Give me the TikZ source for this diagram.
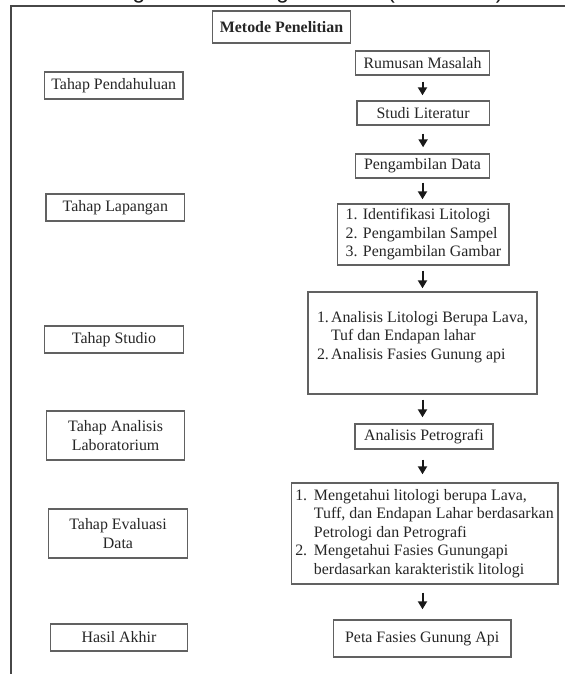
\documentclass[tikz,border=0pt]{standalone}
\usepackage{fontspec}
\setmainfont{Liberation Serif}
\newfontfamily\topsans{Liberation Sans}
\usetikzlibrary{arrows.meta}
\tikzset{
  box/.style={draw=black!62, line width=1.4pt, text=black!85,
    font=\fontsize{15.9}{18.5}\selectfont, inner sep=0pt, align=center},
  listbox/.style={box, align=left},
  arr/.style={draw=black!90, line width=2pt,
    -{Triangle[width=9pt,length=8pt]}},
  frame/.style={draw=black!72, line width=2pt}
}
\newcommand{\numA}[1]{\makebox[14pt][l]{#1}}
\newcommand{\numB}[1]{\makebox[18.7pt][l]{#1}}
\begin{document}
\begin{tikzpicture}[x=1pt,y=-1pt]
\useasboundingbox (0,0) rectangle (565,674);
\fill[white] (0,0) rectangle (565,674);
% clipped caption line at the very top
\begin{scope}
\clip (0,0) rectangle (565,674);
\node[anchor=base east, inner sep=0pt, text=black!90,
  font=\topsans\fontsize{22.7}{26}\selectfont] (toptext) at (510,-1)
  {dalam diagram alir sebagai berikut (Gambar 1).};
\end{scope}
% frame
\draw[frame] (11,674) -- (11,6.5) -- (565,6.5);
% title
\node[box, font=\bfseries\fontsize{15.9}{18.5}\selectfont,
  minimum width=137.7pt, minimum height=32pt] (meta) at (281.5,27) {Metode Penelitian};
% left column
\node[box, minimum width=138.8pt, minimum height=27pt] (L1) at (113.7,85.5) {Tahap Pendahuluan};
\node[box, minimum width=138.4pt, minimum height=27pt] (L2) at (115.3,207.5) {Tahap Lapangan};
\node[box, minimum width=139.5pt, minimum height=27pt] (L3) at (114,339.5) {Tahap Studio};
\node[box, minimum width=137.7pt, minimum height=49pt] (L4) at (115.6,435.5) {Tahap Analisis\\Laboratorium};
\node[box, minimum width=138.8pt, minimum height=49pt] (L5) at (118,533.5) {Tahap Evaluasi\\Data};
\node[box, minimum width=136.9pt, minimum height=27pt] (L6) at (119,637.5) {Hasil Akhir};
% right column
\node[box, minimum width=133.7pt, minimum height=24pt] (R1) at (422.5,63) {Rumusan Masalah};
\node[box, minimum width=132.6pt, minimum height=24pt] (R2) at (423.1,113) {Studi Literatur};
\node[box, minimum width=133.7pt, minimum height=24pt] (R3) at (422.5,166) {Pengambilan Data};
\node[listbox, minimum width=171.5pt, minimum height=61pt] (R4) at (423.4,234.5)
  {1. Identifikasi Litologi\\2. Pengambilan Sampel\\3. Pengambilan Gambar};
\node[listbox, minimum width=228.8pt, minimum height=102pt] (R5) at (422.5,343)
  {\numA{1.}Analisis Litologi Berupa Lava,\\\hspace*{14pt}Tuf dan Endapan lahar\\\numA{2.}Analisis Fasies Gunung api\\[-3pt]\mbox{}};
\node[box, minimum width=138pt, minimum height=25pt] (R6) at (424,436.5) {Analisis Petrografi};
\node[listbox, minimum width=266.6pt, minimum height=101pt] (R7) at (424.5,533.5)
  {\numB{1.}Mengetahui litologi berupa Lava,\\\hspace*{18.7pt}Tuff, dan Endapan Lahar berdasarkan\\\hspace*{18.7pt}Petrologi dan Petrografi\\\numB{2.}Mengetahui Fasies Gunungapi\\\hspace*{18.7pt}berdasarkan karakteristik litologi};
\node[box, minimum width=177.7pt, minimum height=37pt] (R8) at (422.2,638.5) {Peta Fasies Gunung Api};
% arrows
\draw[arr, shorten <=6pt, shorten >=5pt] (R1.south) -- (R1.south |- R2.north);
\draw[arr, shorten <=8pt, shorten >=6pt] (R2.south) -- (R2.south |- R3.north);
\draw[arr, shorten <=4pt, shorten >=4pt] (R3.south) -- (R3.south |- R4.north);
\draw[arr, shorten <=5pt, shorten >=3pt] (R4.south -| R3.south) -- (R3.south |- R5.north);
\draw[arr, shorten <=5pt, shorten >=6pt] (R5.south) -- (R5.south |- R6.north);
\draw[arr, shorten <=10pt, shorten >=8pt] (R6.south -| R5.south) -- (R5.south |- R7.north);
\draw[arr, shorten <=8pt, shorten >=10pt] (R7.south -| R5.south) -- (R5.south |- R8.north);
\end{tikzpicture}
\end{document}
